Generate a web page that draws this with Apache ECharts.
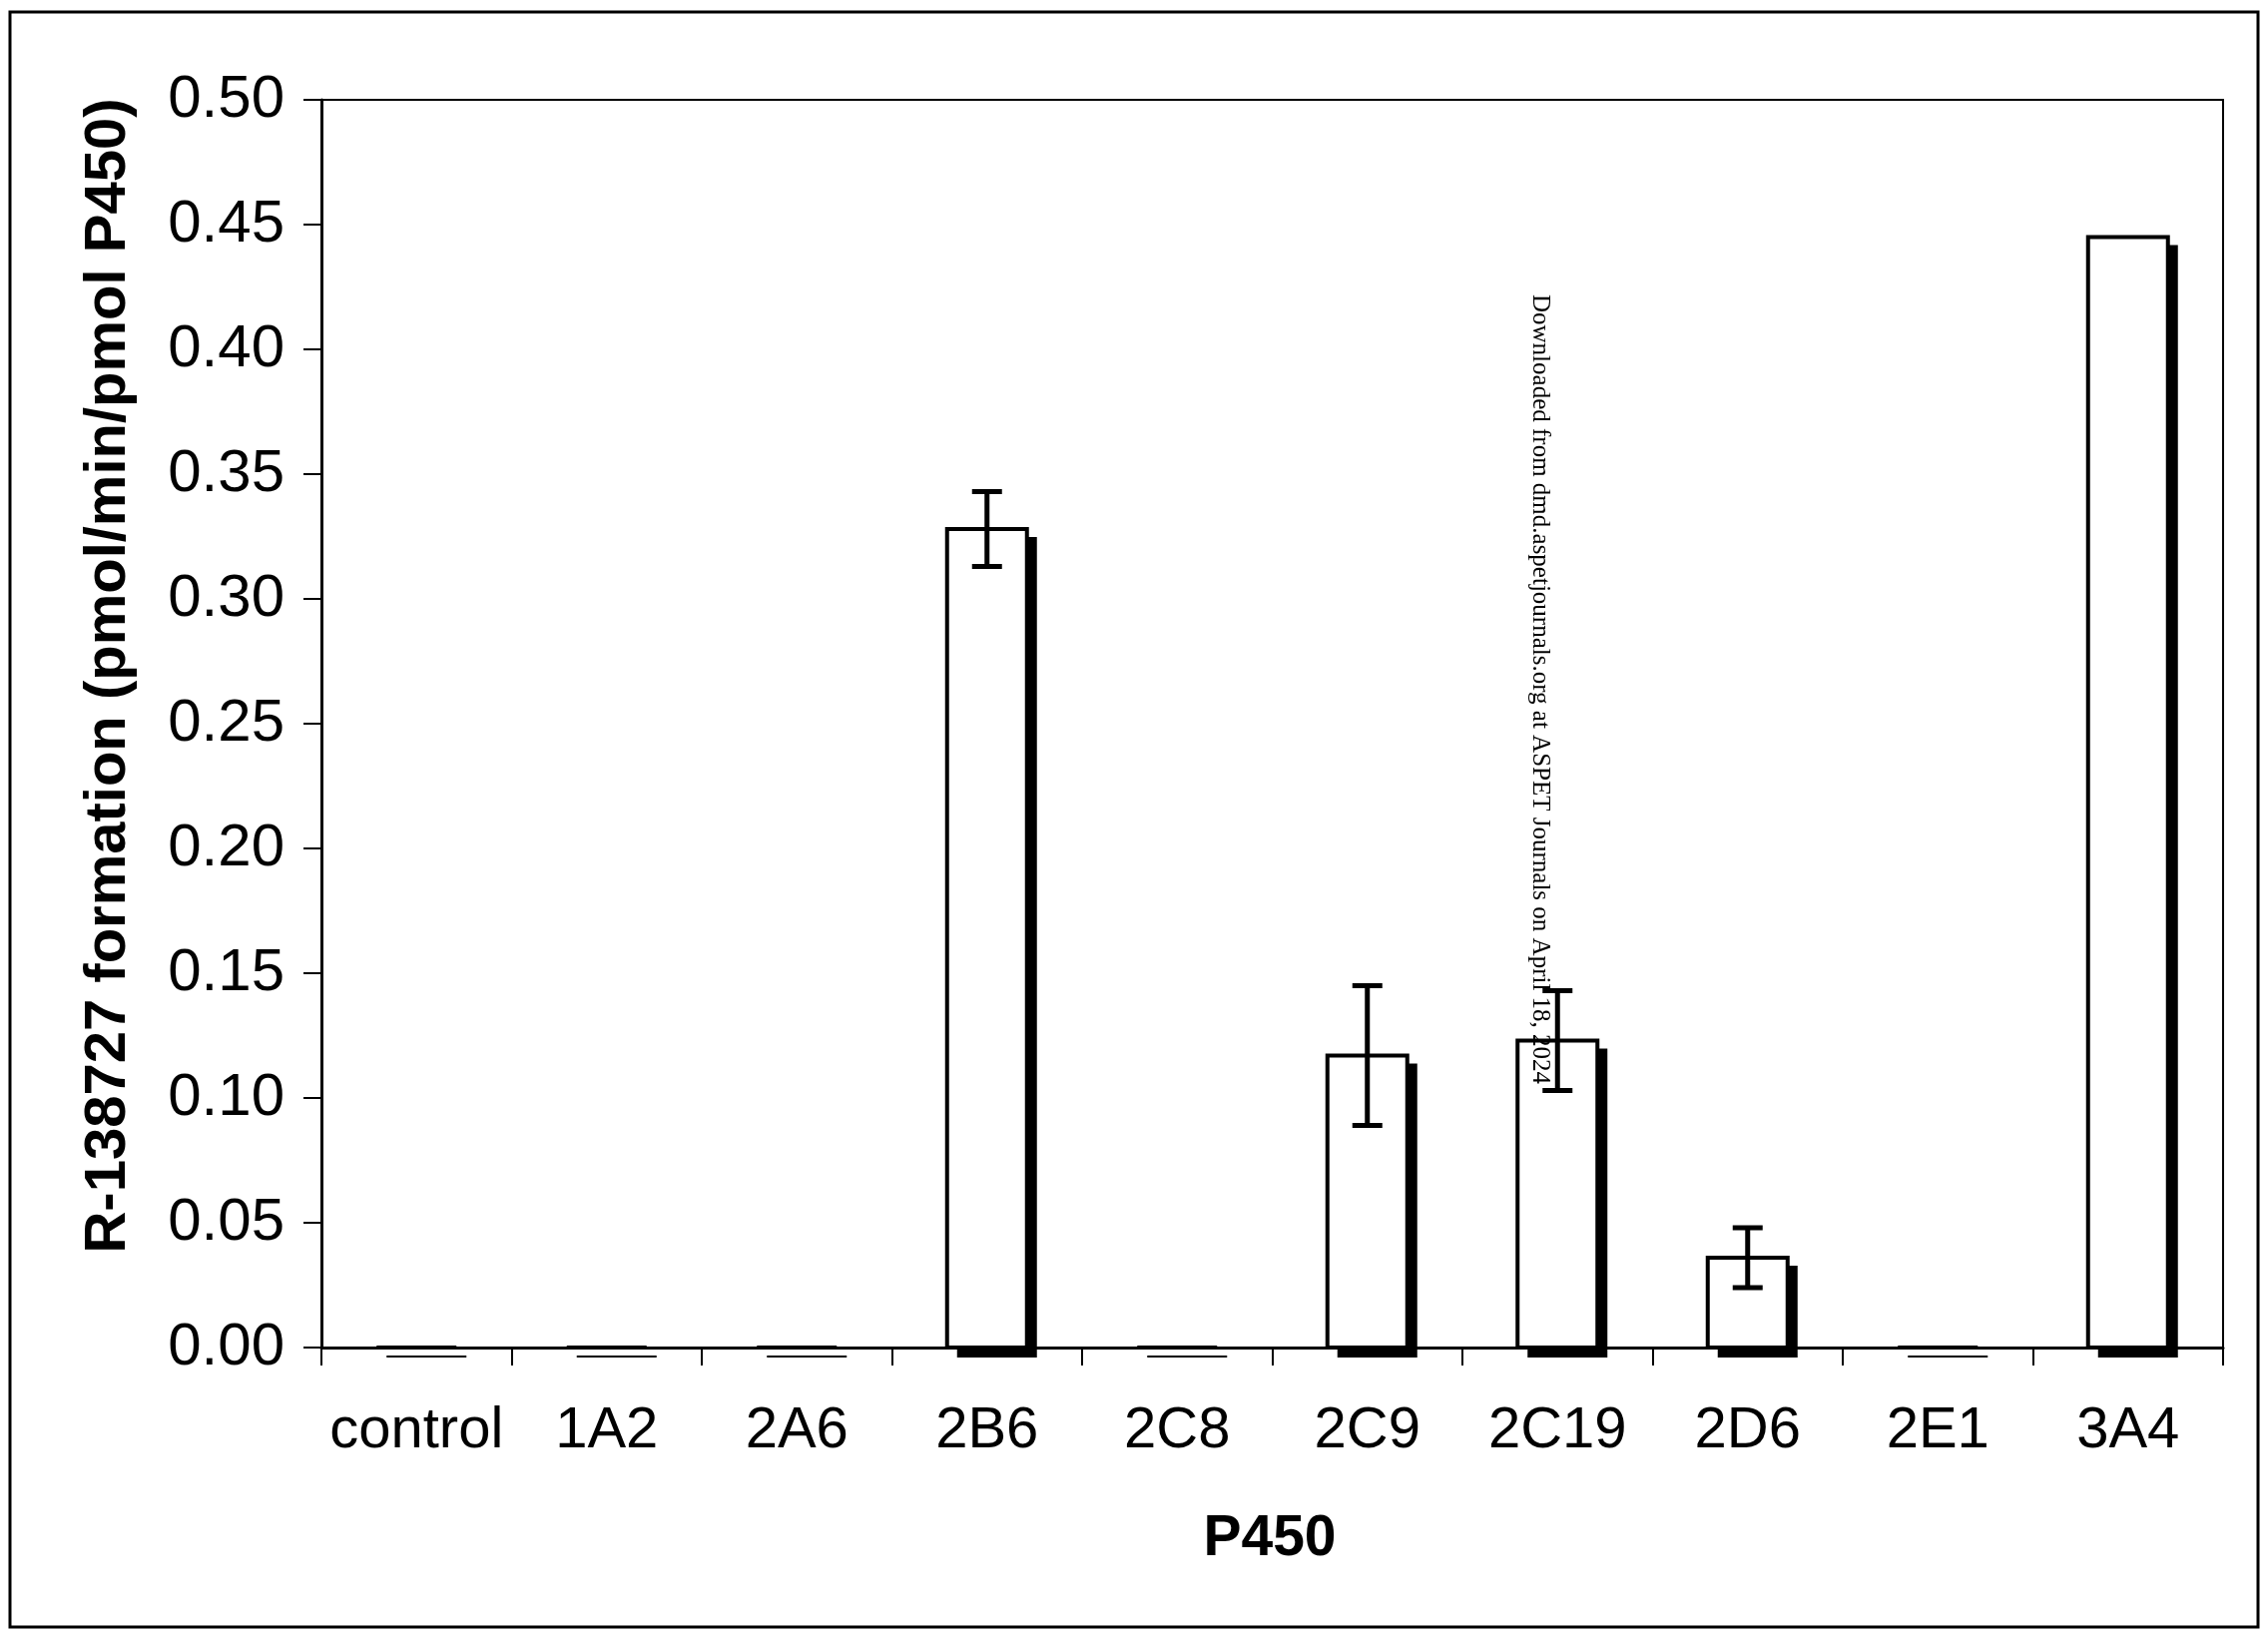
<!DOCTYPE html>
<html>
<head>
<meta charset="utf-8">
<style>
  html, body { margin: 0; padding: 0; background: #fff; }
  #chart { width: 2272px; height: 1642px; }
</style>
<script src="https://cdn.jsdelivr.net/npm/echarts@6/dist/echarts.min.js"></script>
</head>
<body>
<div id="chart"></div>
<script>
const categories = ['control', '1A2', '2A6', '2B6', '2C8', '2C9', '2C19', '2D6', '2E1', '3A4'];
const formation = [0, 0, 0, 0.328, 0, 0.117, 0.123, 0.036, 0, 0.445];
const errorSD = [0, 0, 0, 0.015, 0, 0.028, 0.020, 0.012, 0, 0];
const yMin = 0, yMax = 0.5, yStep = 0.05;
const xTitle = 'P450';
const yTitle = 'R-138727 formation (pmol/min/pmol P450)';
const watermark = 'Downloaded from dmd.aspetjournals.org at ASPET Journals on April 18, 2024';

const chart = echarts.init(document.getElementById('chart'));
const SANS = '"Liberation Sans", Arial, Helvetica, sans-serif';

const barData = categories.map((c, i) => [i, formation[i]]);
const errData = categories.map((c, i) => [i, formation[i], errorSD[i]]);

chart.setOption({
  animation: false,
  backgroundColor: '#fff',
  grid: {
    left: 322, right: 45, top: 100, bottom: 292,
    show: true, borderColor: '#000', borderWidth: 2, backgroundColor: 'transparent'
  },
  xAxis: {
    type: 'category',
    data: categories,
    boundaryGap: true,
    axisLine: { show: true, lineStyle: { color: '#000', width: 3 } },
    axisTick: { show: true, inside: false, length: 18, interval: 0, lineStyle: { color: '#000', width: 2 } },
    axisLabel: { interval: 0, margin: 55, color: '#000', fontFamily: SANS, fontSize: 58 },
    splitLine: { show: false }
  },
  yAxis: {
    type: 'value',
    min: yMin, max: yMax, interval: yStep,
    axisLine: { show: true, lineStyle: { color: '#000', width: 3 } },
    axisTick: { show: true, inside: false, length: 18, lineStyle: { color: '#000', width: 2 } },
    axisLabel: { margin: 37, color: '#000', fontFamily: SANS, fontSize: 60, formatter: v => v.toFixed(2) },
    splitLine: { show: false }
  },
  series: [
    {
      type: 'custom',
      name: 'R-138727 formation',
      data: barData,
      z: 3,
      renderItem: function (params, api) {
        const x = api.value(0), v = api.value(1);
        const top = api.coord([x, v]);
        const base = api.coord([x, 0]);
        const w = 80;
        const left = top[0] - w / 2;
        const h = base[1] - top[1];
        return {
          type: 'group',
          children: [
            { type: 'rect', shape: { x: left + 10, y: top[1] + 8, width: w, height: h + 2 }, style: { fill: '#000' } },
            { type: 'rect', shape: { x: left, y: top[1], width: w, height: h }, style: { fill: '#fff', stroke: '#000', lineWidth: 4 } }
          ]
        };
      }
    },
    {
      type: 'custom',
      data: errData,
      z: 5,
      renderItem: function (params, api) {
        const x = api.value(0), m = api.value(1), e = api.value(2);
        if (!e) return null;
        const hi = api.coord([x, m + e]);
        const lo = api.coord([x, m - e]);
        const hw = 15;
        const st = { stroke: '#000', lineWidth: 5 };
        return {
          type: 'group',
          children: [
            { type: 'line', shape: { x1: hi[0], y1: hi[1], x2: lo[0], y2: lo[1] }, style: st },
            { type: 'line', shape: { x1: hi[0] - hw, y1: hi[1], x2: hi[0] + hw, y2: hi[1] }, style: st },
            { type: 'line', shape: { x1: lo[0] - hw, y1: lo[1], x2: lo[0] + hw, y2: lo[1] }, style: st }
          ]
        };
      }
    }
  ],
  graphic: [
    {
      type: 'rect', z: -1, silent: true,
      shape: { x: 10, y: 12, width: 2252, height: 1618 },
      style: { fill: 'none', stroke: '#000', lineWidth: 3 }
    },
    {
      type: 'text', x: 109, y: 677, rotation: Math.PI / 2, silent: true,
      style: {
        text: yTitle, fill: '#000', font: 'bold 58px ' + SANS,
        align: 'center', verticalAlign: 'middle', textAlign: 'center', textVerticalAlign: 'middle'
      }
    },
    {
      type: 'text', x: 1272, y: 1542, silent: true,
      style: {
        text: xTitle, fill: '#000', font: 'bold 57px ' + SANS,
        align: 'center', verticalAlign: 'middle', textAlign: 'center', textVerticalAlign: 'middle'
      }
    },
    {
      type: 'text', x: 1543, y: 295, rotation: -Math.PI / 2, silent: true, z: 100,
      style: {
        text: watermark, fill: '#000', font: '25px "Liberation Serif", "Times New Roman", serif',
        align: 'left', verticalAlign: 'middle', textAlign: 'left', textVerticalAlign: 'middle'
      }
    }
  ]
});
</script>
</body>
</html>
